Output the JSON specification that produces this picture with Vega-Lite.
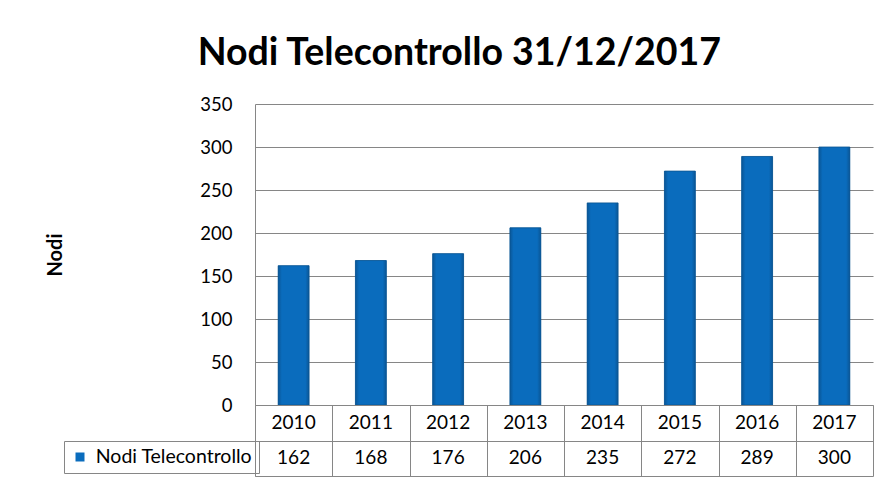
{
  "$schema": "https://vega.github.io/schema/vega-lite/v6.json",
  "padding": {"top": 34, "left": 45, "right": 5, "bottom": 5},
  "background": "white",
  "config": {
    "view": {"stroke": null},
    "font": "Lato"
  },
  "title": {
    "text": "Nodi Telecontrollo 31/12/2017",
    "font": "Lato",
    "fontSize": 37.5,
    "fontWeight": "bold",
    "color": "#000000",
    "anchor": "middle",
    "offset": 23
  },
  "data": {
    "values": [
      {"anno": "2010", "nodi": 162, "serie": "Nodi Telecontrollo"},
      {"anno": "2011", "nodi": 168, "serie": "Nodi Telecontrollo"},
      {"anno": "2012", "nodi": 176, "serie": "Nodi Telecontrollo"},
      {"anno": "2013", "nodi": 206, "serie": "Nodi Telecontrollo"},
      {"anno": "2014", "nodi": 235, "serie": "Nodi Telecontrollo"},
      {"anno": "2015", "nodi": 272, "serie": "Nodi Telecontrollo"},
      {"anno": "2016", "nodi": 289, "serie": "Nodi Telecontrollo"},
      {"anno": "2017", "nodi": 300, "serie": "Nodi Telecontrollo"}
    ]
  },
  "spacing": 0,
  "bounds": "flush",
  "resolve": {"scale": {"x": "independent", "y": "independent"}},
  "vconcat": [
    {
      "width": 618,
      "height": 301,
      "encoding": {
        "x": {"field": "anno", "type": "ordinal", "scale": {"paddingInner": 0.6, "paddingOuter": 0.3}, "axis": null},
        "y": {
          "field": "nodi", "type": "quantitative",
          "scale": {"domain": [0, 350], "nice": false},
          "axis": {
            "title": "Nodi",
            "values": [0, 50, 100, 150, 200, 250, 300, 350],
            "grid": true, "gridColor": "#868686", "gridWidth": 1,
            "domain": true, "domainColor": "#868686",
            "ticks": false,
            "labelPadding": 23,
            "labelFont": "Lato", "labelFontSize": 18.5, "labelColor": "#000000",
            "titleFont": "Lato", "titleFontSize": 20, "titleFontWeight": "bold", "titleColor": "#000000",
            "titlePadding": 134
          }
        }
      },
      "layer": [
        {
          "mark": {"type": "bar"},
          "encoding": {
            "color": {
              "field": "serie", "type": "nominal",
              "scale": {"range": ["#0a6cbd"]},
              "legend": {
                "orient": "none", "legendX": -191, "legendY": 337,
                "title": null,
                "symbolType": "square", "symbolSize": 81, "symbolStrokeWidth": 0,
                "labelFont": "Lato", "labelFontSize": 19.5, "labelColor": "#000000",
                "labelOffset": 6,
                "padding": 6.25,
                "strokeColor": "#868686"
              }
            }
          }
        },
        {
          "mark": {
            "type": "bar",
            "stroke": "#0b5592", "strokeWidth": 0.8,
            "color": {
              "gradient": "linear", "x1": 0, "x2": 1, "y1": 0, "y2": 0,
              "stops": [
                {"offset": 0, "color": "#0a5696"},
                {"offset": 0.12, "color": "#0a6cbd"},
                {"offset": 0.88, "color": "#0a6cbd"},
                {"offset": 1, "color": "#0a5696"}
              ]
            }
          }
        }
      ]
    },
    {
      "width": 618,
      "height": 71,
      "encoding": {
        "x": {
          "field": "anno", "type": "ordinal",
          "scale": {"paddingInner": 0, "paddingOuter": 0},
          "axis": {"labels": false, "ticks": false, "domain": false, "grid": true, "gridColor": "#868686", "tickBand": "extent", "title": null}
        }
      },
      "layer": [
        {
          "mark": {"type": "text", "font": "Lato", "fontSize": 19, "color": "#000000"},
          "encoding": {
            "y": {
              "datum": "anno", "type": "nominal",
              "scale": {"domain": ["anno", "nodi"], "paddingInner": 0, "paddingOuter": 0},
              "axis": {"labels": false, "ticks": false, "domain": true, "domainColor": "#868686", "grid": true, "gridColor": "#868686", "tickBand": "extent", "title": null}
            },
            "text": {"field": "anno"}
          }
        },
        {
          "mark": {"type": "text", "font": "Lato", "fontSize": 19, "color": "#000000"},
          "encoding": {
            "y": {"datum": "nodi", "type": "nominal"},
            "text": {"field": "nodi"}
          }
        }
      ]
    }
  ]
}
